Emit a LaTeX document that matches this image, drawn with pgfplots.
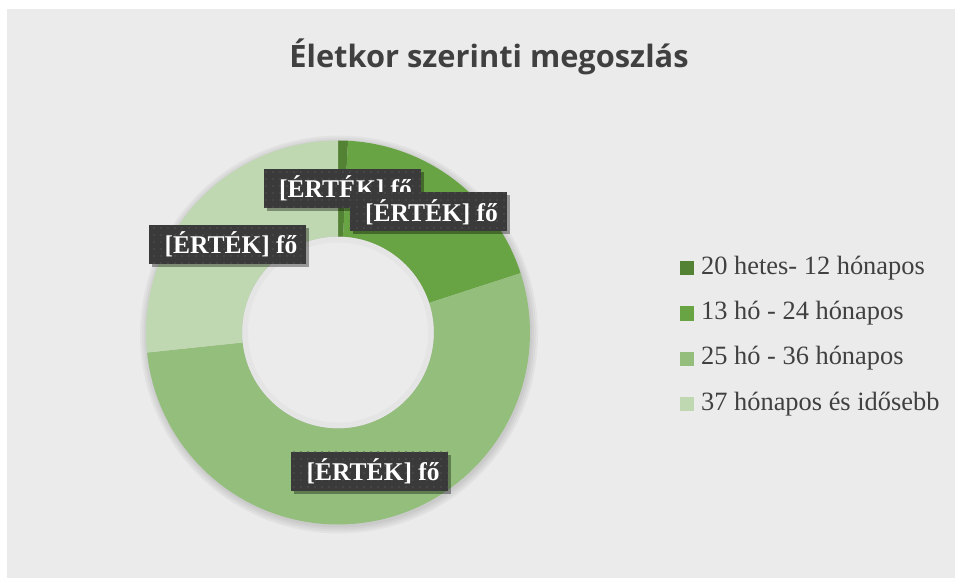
\documentclass[border=0pt]{standalone}
\usepackage{pgfplots}
\pgfplotsset{compat=1.18}
\usepackage{pgfplotstable}
\usepackage{fontspec}
\setmainfont{Liberation Serif}
\newfontfamily\titlefont{Open Sans}
\usetikzlibrary{shadows,patterns.meta}

\definecolor{bgc}{HTML}{EBEBEB}
\definecolor{cA}{HTML}{548235}
\definecolor{cB}{HTML}{68A443}
\definecolor{cC}{HTML}{93BE7B}
\definecolor{cD}{HTML}{BFD8B2}
\definecolor{lbl}{HTML}{3A3A3A}
\definecolor{txt}{HTML}{404040}

\pgfplotstableread{
group value
1 1
2 23
3 64
4 32
}\agedata

\pgfplotstablegetelem{0}{value}\of\agedata \edef\vA{\pgfplotsretval}
\pgfplotstablegetelem{1}{value}\of\agedata \edef\vB{\pgfplotsretval}
\pgfplotstablegetelem{2}{value}\of\agedata \edef\vC{\pgfplotsretval}
\pgfplotstablegetelem{3}{value}\of\agedata \edef\vD{\pgfplotsretval}
\pgfmathsetmacro\tot{\vA+\vB+\vC+\vD}
\pgfmathsetmacro\aA{0}
\pgfmathsetmacro\aB{(\vA/\tot)*360}
\pgfmathsetmacro\aC{\aB+(\vB/\tot)*360}
\pgfmathsetmacro\aD{\aC+(\vC/\tot)*360}
\pgfmathsetmacro\aE{360}

% donut sector: start angle, end angle (clockwise from north), colour
\newcommand\sector[3]{%
  \addplot[fill=#3, draw=none, domain=0:3, samples=241, variable=\t]
  ({338+(192-96*min(max(\t-1,0),1))*sin(#1+(#2-#1)*(min(\t,1)-max(\t-2,0)))},
   {245.5+(192-96*min(max(\t-1,0),1))*cos(#1+(#2-#1)*(min(\t,1)-max(\t-2,0)))});
}

\tikzset{lab/.style={fill=lbl, text=white,
  font=\bfseries\fontsize{25.5bp}{30bp}\selectfont,
  minimum width=157bp, minimum height=39bp, inner sep=0pt,
  drop shadow={shadow xshift=3bp, shadow yshift=-3bp, opacity=0.35, fill=black},
  postaction={pattern={Dots[radius=0.9bp, distance=7bp]}, pattern color=lbl!88!white}}}
\newcommand\lbltext{\hspace*{7bp}[ÉRTÉK] fő}

\begin{document}
\begin{tikzpicture}
\fill[white] (0,0) rectangle (955bp,578bp);
\fill[bgc] (7bp,0) rectangle (955bp,569bp);
% soft shadow around the ring
\foreach \k in {7,5,3,1} {
  \fill[black, opacity=0.035, even odd rule] (339bp,243.5bp) circle (192bp+\k bp) (338bp,245.5bp) circle (96bp);
}
\begin{axis}[
  x=1bp, y=1bp, xmin=0, xmax=955, ymin=0, ymax=578,
  scale only axis, hide axis, clip=false,
  legend style={at={(axis cs:680,322)}, anchor=north west,
    draw=none, fill=none, inner sep=0pt,
    font=\fontsize{26.4bp}{30bp}\selectfont, text=txt,
    nodes={inner sep=0pt, text height=18bp, text depth=6bp},
    row sep=21.3bp,
    /tikz/every odd column/.append style={column sep=7bp}},
  legend cell align=left,
  legend image code/.code={\fill[#1] (0bp,-7bp) rectangle (14bp,7bp);},
]
\sector{\aA}{\aB}{cA}
\sector{\aB}{\aC}{cB}
\sector{\aC}{\aD}{cC}
\sector{\aD}{\aE}{cD}
\legend{20 hetes- 12 hónapos, 13 hó - 24 hónapos, 25 hó - 36 hónapos, 37 hónapos és idősebb}
\end{axis}
% hole inner shadow
\foreach \k in {1,3,5} {
  \draw[black, opacity=0.025, line width=2bp] (338bp,245.5bp) circle (96bp-\k bp);
}
\node[anchor=base, text=txt, font=\titlefont\bfseries\fontsize{30.8bp}{36bp}\selectfont] at (489bp,510bp) {Életkor szerinti megoszlás};
\node[lab] at (342bp,389.5bp) {\lbltext};
\node[lab] at (428bp,366bp) {\lbltext};
\node[lab] at (227.5bp,333.5bp) {\lbltext};
\node[lab] at (369.7bp,106.7bp) {\lbltext};
\end{tikzpicture}
\end{document}
